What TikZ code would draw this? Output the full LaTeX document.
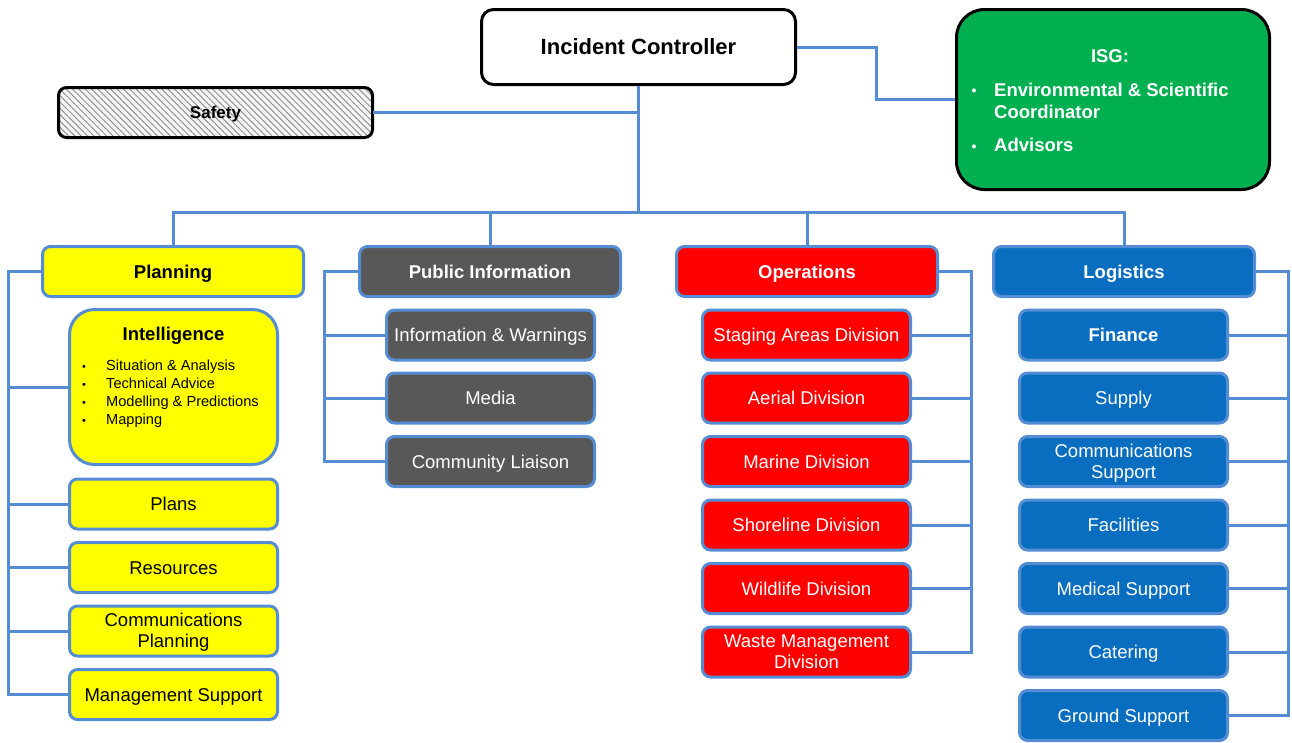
\documentclass[tikz,border=0pt]{standalone}
\usepackage{fontspec}
\setmainfont{Liberation Sans}
\usetikzlibrary{patterns.meta}

\definecolor{linkblue}{RGB}{84,141,212}
\definecolor{planyellow}{RGB}{255,255,0}
\definecolor{infogray}{RGB}{88,88,88}
\definecolor{opsred}{RGB}{255,0,0}
\definecolor{logblue}{RGB}{10,110,192}
\definecolor{isggreen}{RGB}{0,176,80}

\newcommand{\fsz}[2]{\fontsize{#1}{#2}\selectfont}

\begin{document}
\begin{tikzpicture}[x=1pt,y=-1pt,
  font=\fsz{18.5}{21},
  link/.style={draw=linkblue, line width=3pt},
  box/.style={draw=linkblue, line width=3pt, rounded corners=8pt,
    minimum height=50pt, inner sep=2pt, align=center},
  one/.style={text height=14pt, text depth=0.8pt},
  two/.style={text depth=0.5pt},
  head/.style={box, one, minimum width=261pt, font=\fsz{18.5}{21}\bfseries},
  sub/.style={box, minimum width=208pt},
  plan/.style={fill=planyellow, text=black},
  info/.style={fill=infogray, text=white},
  ops/.style={fill=opsred, text=white},
  logi/.style={fill=logblue, text=white},
  blackbox/.style={draw=black, line width=3pt, align=center},
  isgtxt/.style={text=white, font=\fsz{18.5}{22}\bfseries, inner sep=0pt},
  inteltxt/.style={text=black, font=\fsz{14.6}{18}, inner sep=0pt}
]
\useasboundingbox (0,0) rectangle (1292,742);

% ---------- top level ----------
\node[blackbox, fill=white, rounded corners=12pt, minimum width=314pt,
      minimum height=75pt, font=\fsz{22}{26}\bfseries, text height=16.5pt, text depth=0.8pt]
      (ic) at (638.5,47) {Incident Controller};

\node[blackbox, rounded corners=8pt, minimum width=314pt, minimum height=50pt,
      font=\fsz{17}{20}\bfseries, text height=13pt, text depth=0.8pt,
      preaction={fill=gray!8},
      pattern={Lines[angle=-45,distance=4.5pt,line width=1pt]}, pattern color=gray!85]
      (safety) at (215.5,112.5) {Safety};

\node[blackbox, fill=isggreen, rounded corners=28pt, minimum width=313pt,
      minimum height=180pt] (isg) at (1113,99.5) {};
\node[isgtxt, anchor=base] (isgtitle) at (1110,62.5) {ISG:};
\node[isgtxt, font=\fsz{14}{14}\bfseries, anchor=base] (isgb1) at (974,95) {\textbullet};
\node[isgtxt, anchor=north west, align=left] (isgi1) at (994,83) {Environmental \& Scientific\\Coordinator};
\node[isgtxt, font=\fsz{14}{14}\bfseries, anchor=base] (isgb2) at (974,151) {\textbullet};
\node[isgtxt, anchor=base west] (isgi2) at (994,151.5) {Advisors};

% ---------- section heads ----------
\node[head, plan] (plan) at (173,271.5) {Planning};
\node[head, info] (info) at (490,271.5) {Public Information};
\node[head, ops]  (ops)  at (807,271.5) {Operations};
\node[head, logi] (logi) at (1124,271.5) {Logistics};

% ---------- planning ----------
\node[box, plan, rounded corners=25pt, minimum width=208pt, minimum height=155pt] (intel) at (173.5,387) {};
\node[font=\fsz{18.5}{21}\bfseries, inner sep=0pt, anchor=base] (inteltitle) at (173.5,340) {Intelligence};
\foreach \t [count=\i] in {Situation \& Analysis, Technical Advice, Modelling \& Predictions, Mapping}{
  \node[inteltxt, font=\fsz{11}{12}, anchor=base] (intelb\i) at (84,352.5+18*\i) {\textbullet};
  \node[inteltxt, anchor=base west] (inteli\i) at (106,352.5+18*\i) {\t};
}
\node[sub, one, plan] (plans) at (173.5,504) {Plans};
\node[sub, one, plan] (resources) at (173.5,567.5) {Resources};
\node[sub, two, plan] (commplan) at (173.5,631) {Communications\\Planning};
\node[sub, one, plan] (mgmt) at (173.5,694.5) {Management Support};

% ---------- public information ----------
\node[sub, one, info] (warn) at (490.5,335) {Information \& Warnings};
\node[sub, one, info] (media) at (490.5,398) {Media};
\node[sub, one, info] (community) at (490.5,461.5) {Community Liaison};

% ---------- operations ----------
\node[sub, one, ops] (staging) at (806.5,335) {Staging Areas Division};
\node[sub, one, ops] (aerial) at (806.5,398) {Aerial Division};
\node[sub, one, ops] (marine) at (806.5,461.5) {Marine Division};
\node[sub, one, ops] (shore) at (806.5,525) {Shoreline Division};
\node[sub, one, ops] (wildlife) at (806.5,588.5) {Wildlife Division};
\node[sub, two, ops] (waste) at (806.5,652) {Waste Management\\Division};

% ---------- logistics ----------
\node[sub, one, logi, font=\fsz{18.5}{21}\bfseries] (finance) at (1123.5,335) {Finance};
\node[sub, one, logi] (supply) at (1123.5,398) {Supply};
\node[sub, two, logi] (commsup) at (1123.5,461.5) {Communications\\Support};
\node[sub, one, logi] (facilities) at (1123.5,525) {Facilities};
\node[sub, one, logi] (medical) at (1123.5,588.5) {Medical Support};
\node[sub, one, logi] (catering) at (1123.5,652) {Catering};
\node[sub, one, logi] (ground) at (1123.5,715.5) {Ground Support};

% ---------- connectors ----------
\coordinate (bus) at (638.5,212);
\draw[link] (ic.south) -- (bus);
\draw[link] (safety.east) -- (safety.east -| ic.south);
\draw[link] (ic.east) -- ++(79,0) |- (isg.west);
\draw[link] (plan.north) |- (bus) -| (logi.north);
\draw[link] (info.north) -- (info.north |- bus);
\draw[link] (ops.north) -- (ops.north |- bus);

\coordinate (pbus) at (8,271.5);
\draw[link] (plan.west) -- (pbus) |- (mgmt.west);
\foreach \n in {intel,plans,resources,commplan}
  \draw[link] (\n.west) -- (\n.west -| pbus);

\coordinate (ibus) at (324,271.5);
\draw[link] (info.west) -- (ibus) |- (community.west);
\foreach \n in {warn,media}
  \draw[link] (\n.west) -- (\n.west -| ibus);

\coordinate (obus) at (971,271.5);
\draw[link] (ops.east) -- (obus) |- (waste.east);
\foreach \n in {staging,aerial,marine,shore,wildlife}
  \draw[link] (\n.east) -- (\n.east -| obus);

\coordinate (lbus) at (1288,271.5);
\draw[link] (logi.east) -- (lbus) |- (ground.east);
\foreach \n in {finance,supply,commsup,facilities,medical,catering}
  \draw[link] (\n.east) -- (\n.east -| lbus);
\end{tikzpicture}
\end{document}
